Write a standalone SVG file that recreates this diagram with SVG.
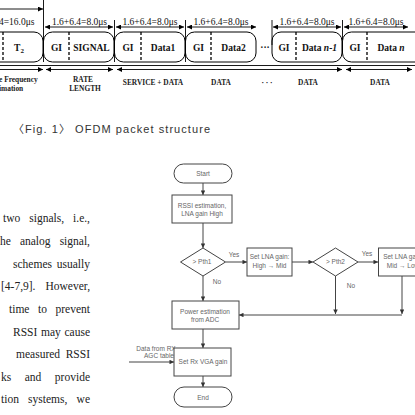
<svg xmlns="http://www.w3.org/2000/svg" width="415" height="415" viewBox="0 0 415 415">
<defs>
<marker id="ah" viewBox="0 0 10 10" refX="10" refY="5" markerWidth="5" markerHeight="5" orient="auto-start-reverse" markerUnits="userSpaceOnUse"><path d="M0,0 L10,5 L0,10 z" fill="#000"/></marker>
<marker id="fh" viewBox="0 0 10 10" refX="10" refY="5" markerWidth="5" markerHeight="4.5" orient="auto" markerUnits="userSpaceOnUse"><path d="M0,0 L10,5 L0,10 z" fill="#333"/></marker>
<style>
.pk{fill:#fff;stroke:#000;stroke-width:1}
.dash{stroke:#000;stroke-width:1.3;stroke-dasharray:3,2}
.ln{stroke:#000;stroke-width:0.9;fill:none}
.tb{font-family:"Liberation Serif",serif;font-weight:bold;font-size:9.5px;fill:#111;text-anchor:middle}
.tl{font-family:"Liberation Serif",serif;font-size:9.5px;fill:#111;text-anchor:middle}
.lb{font-family:"Liberation Serif",serif;font-weight:bold;font-size:7.4px;fill:#222;text-anchor:middle}
.cap{font-family:"Liberation Sans","Noto Sans CJK KR",sans-serif;font-size:11px;fill:#333}
.para{font-family:"Liberation Serif",serif;font-size:11.5px;fill:#222}
.fb{fill:#fff;stroke:#444;stroke-width:1}
.fl{stroke:#444;stroke-width:1;fill:none}
.ft{font-family:"Liberation Sans",sans-serif;font-size:6.5px;fill:#666;text-anchor:middle}
</style>
</defs>

<!-- Packet structure -->
<g id="packet">
<rect class="pk" x="-20" y="32" width="63" height="30" rx="9"/>
<rect class="pk" x="43.5" y="32" width="70.5" height="30" rx="9"/>
<rect class="pk" x="114.5" y="32" width="70.5" height="30" rx="9"/>
<rect class="pk" x="185.5" y="32" width="70.5" height="30" rx="9"/>
<rect class="pk" x="272" y="32" width="70" height="30" rx="9"/>
<rect class="pk" x="342.5" y="32" width="90" height="30" rx="9"/>
<line class="dash" x1="3" y1="32" x2="3" y2="62"/>
<line class="dash" x1="69" y1="32" x2="69" y2="62"/>
<line class="dash" x1="141" y1="32" x2="141" y2="62"/>
<line class="dash" x1="211" y1="32" x2="211" y2="62"/>
<line class="dash" x1="296" y1="32" x2="296" y2="62"/>
<line class="dash" x1="367" y1="32" x2="367" y2="62"/>
<text class="tb" x="19" y="51">T<tspan font-size="7" dy="2">2</tspan></text>
<text class="tb" x="56.5" y="50.5">GI</text>
<text class="tb" x="91.5" y="50.5">SIGNAL</text>
<text class="tb" x="128" y="50.5">GI</text>
<text class="tb" x="163" y="50.5">Data1</text>
<text class="tb" x="198.5" y="50.5">GI</text>
<text class="tb" x="233.5" y="50.5">Data2</text>
<text class="tb" x="265" y="50.5">···</text>
<text class="tb" x="284" y="50.5">GI</text>
<text class="tb" x="319.5" y="50.5">Data <tspan font-style="italic">n-1</tspan></text>
<text class="tb" x="355" y="50.5">GI</text>
<text class="tb" x="391" y="50.5">Data <tspan font-style="italic">n</tspan></text>
<text class="tl" x="-1" y="25" style="text-anchor:start">4=16.0μs</text>
<text class="tl" x="79.5" y="25">1.6+6.4=8.0μs</text>
<text class="tl" x="150" y="25">1.6+6.4=8.0μs</text>
<text class="tl" x="221" y="25">1.6+6.4=8.0μs</text>
<text class="tl" x="307" y="25">1.6+6.4=8.0μs</text>
<text class="tl" x="376" y="25">1.6+6.4=8.0μs</text>
<text class="lb" x="-1" y="82" style="text-anchor:start">e Frequency</text>
<text class="lb" x="-1" y="91" style="text-anchor:start">imation</text>
<text class="lb" x="83" y="82">RATE</text>
<text class="lb" x="85" y="91">LENGTH</text>
<text class="lb" x="153" y="85">SERVICE + DATA</text>
<text class="lb" x="221" y="85">DATA</text>
<text class="lb" x="267" y="85">· · ·</text>
<text class="lb" x="308" y="85">DATA</text>
<text class="lb" x="380" y="85">DATA</text>
</g>
<g id="packet-lines">
<line class="ln" x1="0" y1="9" x2="43" y2="9" marker-end="url(#ah)"/>
<line class="ln" x1="43.5" y1="0" x2="43.5" y2="62"/>
<line class="ln" x1="114.5" y1="20" x2="114.5" y2="62"/>
<line class="ln" x1="185.5" y1="20" x2="185.5" y2="62"/>
<line class="ln" x1="272" y1="20" x2="272" y2="45"/>
<line class="ln" x1="342.5" y1="20" x2="342.5" y2="40"/>
<line class="ln" x1="45" y1="27" x2="113" y2="27" marker-start="url(#ah)" marker-end="url(#ah)"/>
<line class="ln" x1="116" y1="27" x2="184" y2="27" marker-start="url(#ah)" marker-end="url(#ah)"/>
<line class="ln" x1="187" y1="27" x2="256" y2="27" marker-start="url(#ah)" marker-end="url(#ah)"/>
<line class="ln" x1="273" y1="27" x2="341" y2="27" marker-start="url(#ah)" marker-end="url(#ah)"/>
<line class="ln" x1="344" y1="27" x2="408" y2="27" marker-start="url(#ah)" marker-end="url(#ah)"/>
<line class="ln" x1="0" y1="65.5" x2="415" y2="65.5"/>
<line class="ln" x1="0" y1="69.5" x2="43" y2="69.5" marker-end="url(#ah)"/>
<line class="ln" x1="46" y1="69.5" x2="113" y2="69.5" marker-start="url(#ah)" marker-end="url(#ah)"/>
<line class="ln" x1="117" y1="69.5" x2="342" y2="69.5" marker-start="url(#ah)" marker-end="url(#ah)"/>
<line class="ln" x1="346" y1="69.5" x2="412" y2="69.5" marker-start="url(#ah)" marker-end="url(#ah)"/>
</g>

<text class="cap" x="13" y="133" textLength="197" lengthAdjust="spacing">〈Fig. 1〉 OFDM packet structure</text>

<!-- paragraph -->
<g id="paragraph" class="para">
<text x="3" y="222">two</text><text x="29.3" y="222">signals,</text><text x="90" y="222" text-anchor="end">i.e.,</text>
<text x="0" y="245">he</text><text x="19.9" y="245">analog</text><text x="90" y="245" text-anchor="end">signal,</text>
<text x="13" y="267.5">schemes</text><text x="90" y="267.5" text-anchor="end">usually</text>
<text x="1" y="290">[4-7,9].</text><text x="90" y="290" text-anchor="end">However,</text>
<text x="9" y="313">time</text><text x="38" y="313">to</text><text x="90" y="313" text-anchor="end">prevent</text>
<text x="13" y="335.5">RSSI</text><text x="41" y="335.5">may</text><text x="90" y="335.5" text-anchor="end">cause</text>
<text x="16" y="358">measured</text><text x="90" y="358" text-anchor="end">RSSI</text>
<text x="1" y="381">ks</text><text x="24.7" y="381">and</text><text x="90" y="381" text-anchor="end">provide</text>
<text x="1" y="403">tion</text><text x="28.1" y="403">systems,</text><text x="90" y="403" text-anchor="end">we</text>
</g>

<!-- flowchart connectors -->
<g id="connectors">
<line class="fl" x1="203" y1="183" x2="203" y2="195" marker-end="url(#fh)"/>
<line class="fl" x1="203" y1="223" x2="203" y2="248" marker-end="url(#fh)"/>
<line class="fl" x1="225.5" y1="262" x2="247" y2="262" marker-end="url(#fh)"/>
<line class="fl" x1="292" y1="262" x2="313" y2="262" marker-end="url(#fh)"/>
<line class="fl" x1="358" y1="262" x2="378" y2="262" marker-end="url(#fh)"/>
<line class="fl" x1="203" y1="276" x2="203" y2="301" marker-end="url(#fh)"/>
<line class="fl" x1="335.5" y1="276" x2="335.5" y2="314" marker-end="url(#fh)"/>
<line class="fl" x1="402" y1="276" x2="402" y2="314" marker-end="url(#fh)"/>
<line class="fl" x1="402" y1="315" x2="239" y2="315" marker-end="url(#fh)"/>
<line class="fl" x1="203" y1="329" x2="203" y2="348" marker-end="url(#fh)"/>
<line class="fl" x1="129" y1="362" x2="174" y2="362" stroke="#222" marker-end="url(#fh)"/>
<line class="fl" x1="203" y1="376" x2="203" y2="387" marker-end="url(#fh)"/>
<text class="ft" x="234" y="257">Yes</text>
<text class="ft" x="367" y="256">Yes</text>
<text class="ft" x="217" y="284">No</text>
<text class="ft" x="351" y="288">No</text>
<text class="ft" x="156" y="351">Data from RX</text>
<text class="ft" x="159" y="357.5">AGC table</text>
</g>

<g id="start"><rect class="fb" x="174" y="164" width="58" height="19" rx="9.5"/><text class="ft" x="203" y="176">Start</text></g>
<g id="rssi"><rect class="fb" x="172" y="195" width="60" height="28"/><text class="ft" x="202" y="208">RSSI estimation,</text><text class="ft" x="202" y="216">LNA gain High</text></g>
<g id="pth1"><path class="fb" d="M180.5,262 L203,248 L225.5,262 L203,276 z"/><text class="ft" x="202" y="264">&gt; Pth1</text></g>
<g id="lna1"><rect class="fb" x="247" y="248" width="45" height="28"/><text class="ft" x="269.5" y="259">Set LNA gain:</text><text class="ft" x="269.5" y="267.5">High → Mid</text></g>
<g id="pth2"><path class="fb" d="M313,262 L335.5,248 L358,262 L335.5,276 z"/><text class="ft" x="335.5" y="264">&gt; Pth2</text></g>
<g id="lna2"><rect class="fb" x="378.5" y="248" width="47" height="28"/><text class="ft" x="403" y="259">Set LNA gain:</text><text class="ft" x="403" y="267.5">Mid → Low</text></g>
<g id="power"><rect class="fb" x="172" y="301" width="67" height="28"/><text class="ft" x="205" y="314">Power estimation</text><text class="ft" x="205" y="322">from ADC</text></g>
<g id="vga"><rect class="fb" x="174" y="348" width="57" height="28"/><text class="ft" x="203" y="364">Set Rx VGA gain</text></g>
<g id="end"><rect class="fb" x="174" y="387" width="58" height="20" rx="10"/><text class="ft" x="203" y="399.5">End</text></g>
</svg>
